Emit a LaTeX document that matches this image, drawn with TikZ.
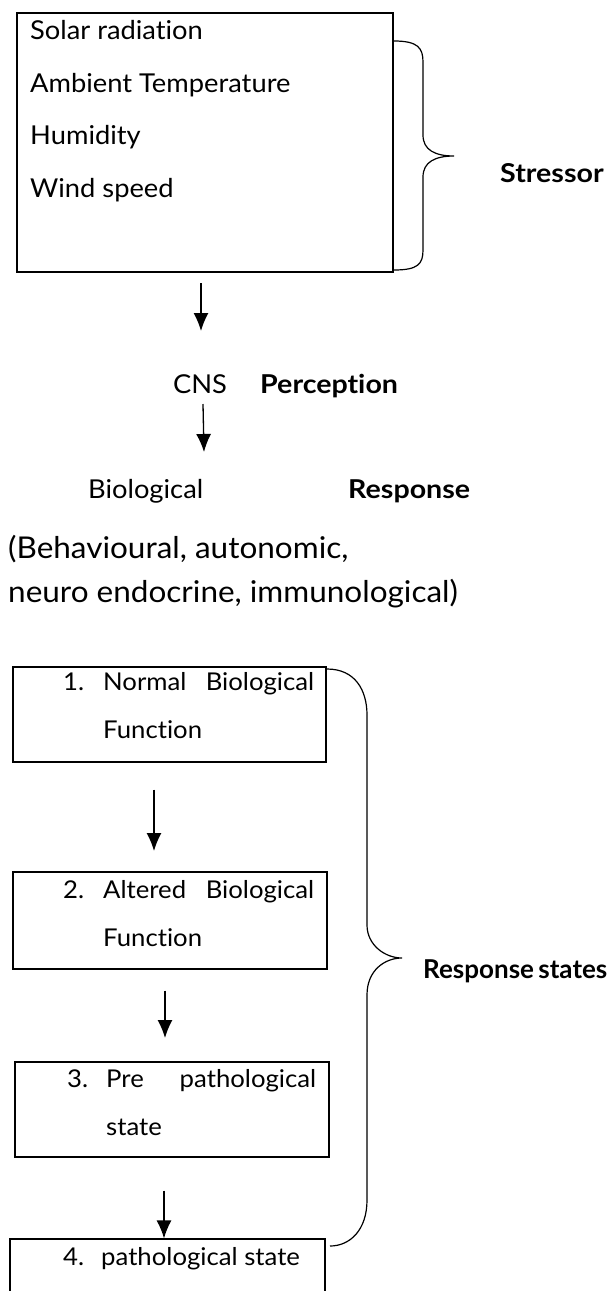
\documentclass[tikz,border=0pt]{standalone}
\usepackage{fontspec}
\setmainfont{Lato}[RawFeature={-liga}, FakeStretch=1.05, BoldFeatures={FakeStretch=1.1}]
\newfontfamily\rsfont{Lato}[RawFeature={-liga}]
\usetikzlibrary{arrows.meta}
\begin{document}
\begin{tikzpicture}[x=1pt,y=-1pt,
  boxst/.style={draw, line width=1.2pt, rectangle, inner sep=0pt},
  txt/.style={anchor=base west, inner sep=0pt, font=\fontsize{26}{30}\selectfont},
  btxt/.style={anchor=base west, inner sep=0pt, font=\fontsize{24.5}{28}\selectfont},
  big/.style={anchor=base west, inner sep=0pt, font=\fontsize{30}{34}\selectfont},
  lbl/.style={anchor=base west, inner sep=0pt, font=\fontsize{26}{30}\selectfont\bfseries},
  arr/.style={line width=1.3pt, -{Latex[length=18pt,width=15pt]}},
  brace/.style={line width=1.2pt}]
\useasboundingbox (0,0) rectangle (611,1291);
% top box
\node[boxst, minimum width=376pt, minimum height=259pt] (box1) at (205,142.5) {};
\node[txt] (t1) at (30,39) {Solar radiation};
\node[txt] (t2) at (30,92) {Ambient Temperature};
\node[txt] (t3) at (30,144) {Humidity};
\node[txt] (t4) at (30,197) {Wind speed};
\draw[brace] (394,41) .. controls (418,41) and (423,48) .. (423,62) -- (423,135)
  .. controls (423,150) and (435,156) .. (454,156)
  .. controls (435,156) and (423,162) .. (423,177) -- (423,250)
  .. controls (423,264) and (418,270) .. (394,270);
\node[lbl] (stressor) at (500,182) {Stressor};
% CNS
\coordinate (a1s) at (201,283);
\coordinate (a1e) at (201,331);
\draw[arr] (a1s) -- (a1e);
\node[txt, anchor=base] (cns) at (200,393) {CNS};
\node[lbl] (perc) at (260,393) {Perception};
\coordinate (a2s) at (203,404);
\coordinate (a2e) at (204,452);
\draw[arr] (a2s) -- (a2e);
\node[txt] (bio) at (88,498) {Biological};
\node[lbl] (resp) at (348,498) {Response};
\node[big] (beh1) at (8,558) {(Behavioural, autonomic,};
\node[big] (beh2) at (8,602) {neuro endocrine, immunological)};
% response boxes
\node[boxst, minimum width=313pt, minimum height=95pt] (b1) at (169.5,714.5) {};
\node[btxt] (b1a) at (63,690) {\makebox[40pt][l]{1.}\makebox[211pt][s]{Normal Biological}};
\node[btxt] (b1b) at (103,738) {Function};
\node[boxst, minimum width=314pt, minimum height=97pt] (b2) at (170,920.5) {};
\node[btxt] (b2a) at (63,898) {\makebox[40pt][l]{2.}\makebox[211pt][s]{Altered Biological}};
\node[btxt] (b2b) at (103,946) {Function};
\node[boxst, minimum width=314pt, minimum height=95pt] (b3) at (172,1109.5) {};
\node[btxt] (b3a) at (67,1087) {\makebox[39pt][l]{3.}\makebox[210pt][s]{Pre pathological}};
\node[btxt] (b3b) at (106,1135) {state};
\node[boxst, minimum width=315pt, minimum height=80pt] (b4) at (167.5,1279) {};
\node[btxt] (b4a) at (63,1265) {\makebox[38pt][l]{4.}pathological state};
\draw[arr] (b1.south -| 154,0) ++(0,27) coordinate (a3s) -- (154,851) coordinate (a3e);
\draw[arr] (b2.south -| 165,0) ++(0,21) coordinate (a4s) -- (165,1038) coordinate (a4e);
\draw[arr] (b3.south -| 164,0) ++(0,33) coordinate (a5s) -- (b4.north -| 164,0);
\draw[brace] (327,669) .. controls (355,669) and (367,690) .. (367,715) -- (367,925)
  .. controls (367,945) and (385,958) .. (402,958)
  .. controls (385,958) and (367,970) .. (367,995) -- (367,1200)
  .. controls (367,1230) and (350,1246) .. (330,1246);
\node[anchor=base west, inner sep=0pt, font=\rsfont\fontsize{26}{30}\selectfont\bfseries] (rstates) at (423,978) {Response\hspace{-2pt} states};
\end{tikzpicture}
\end{document}
